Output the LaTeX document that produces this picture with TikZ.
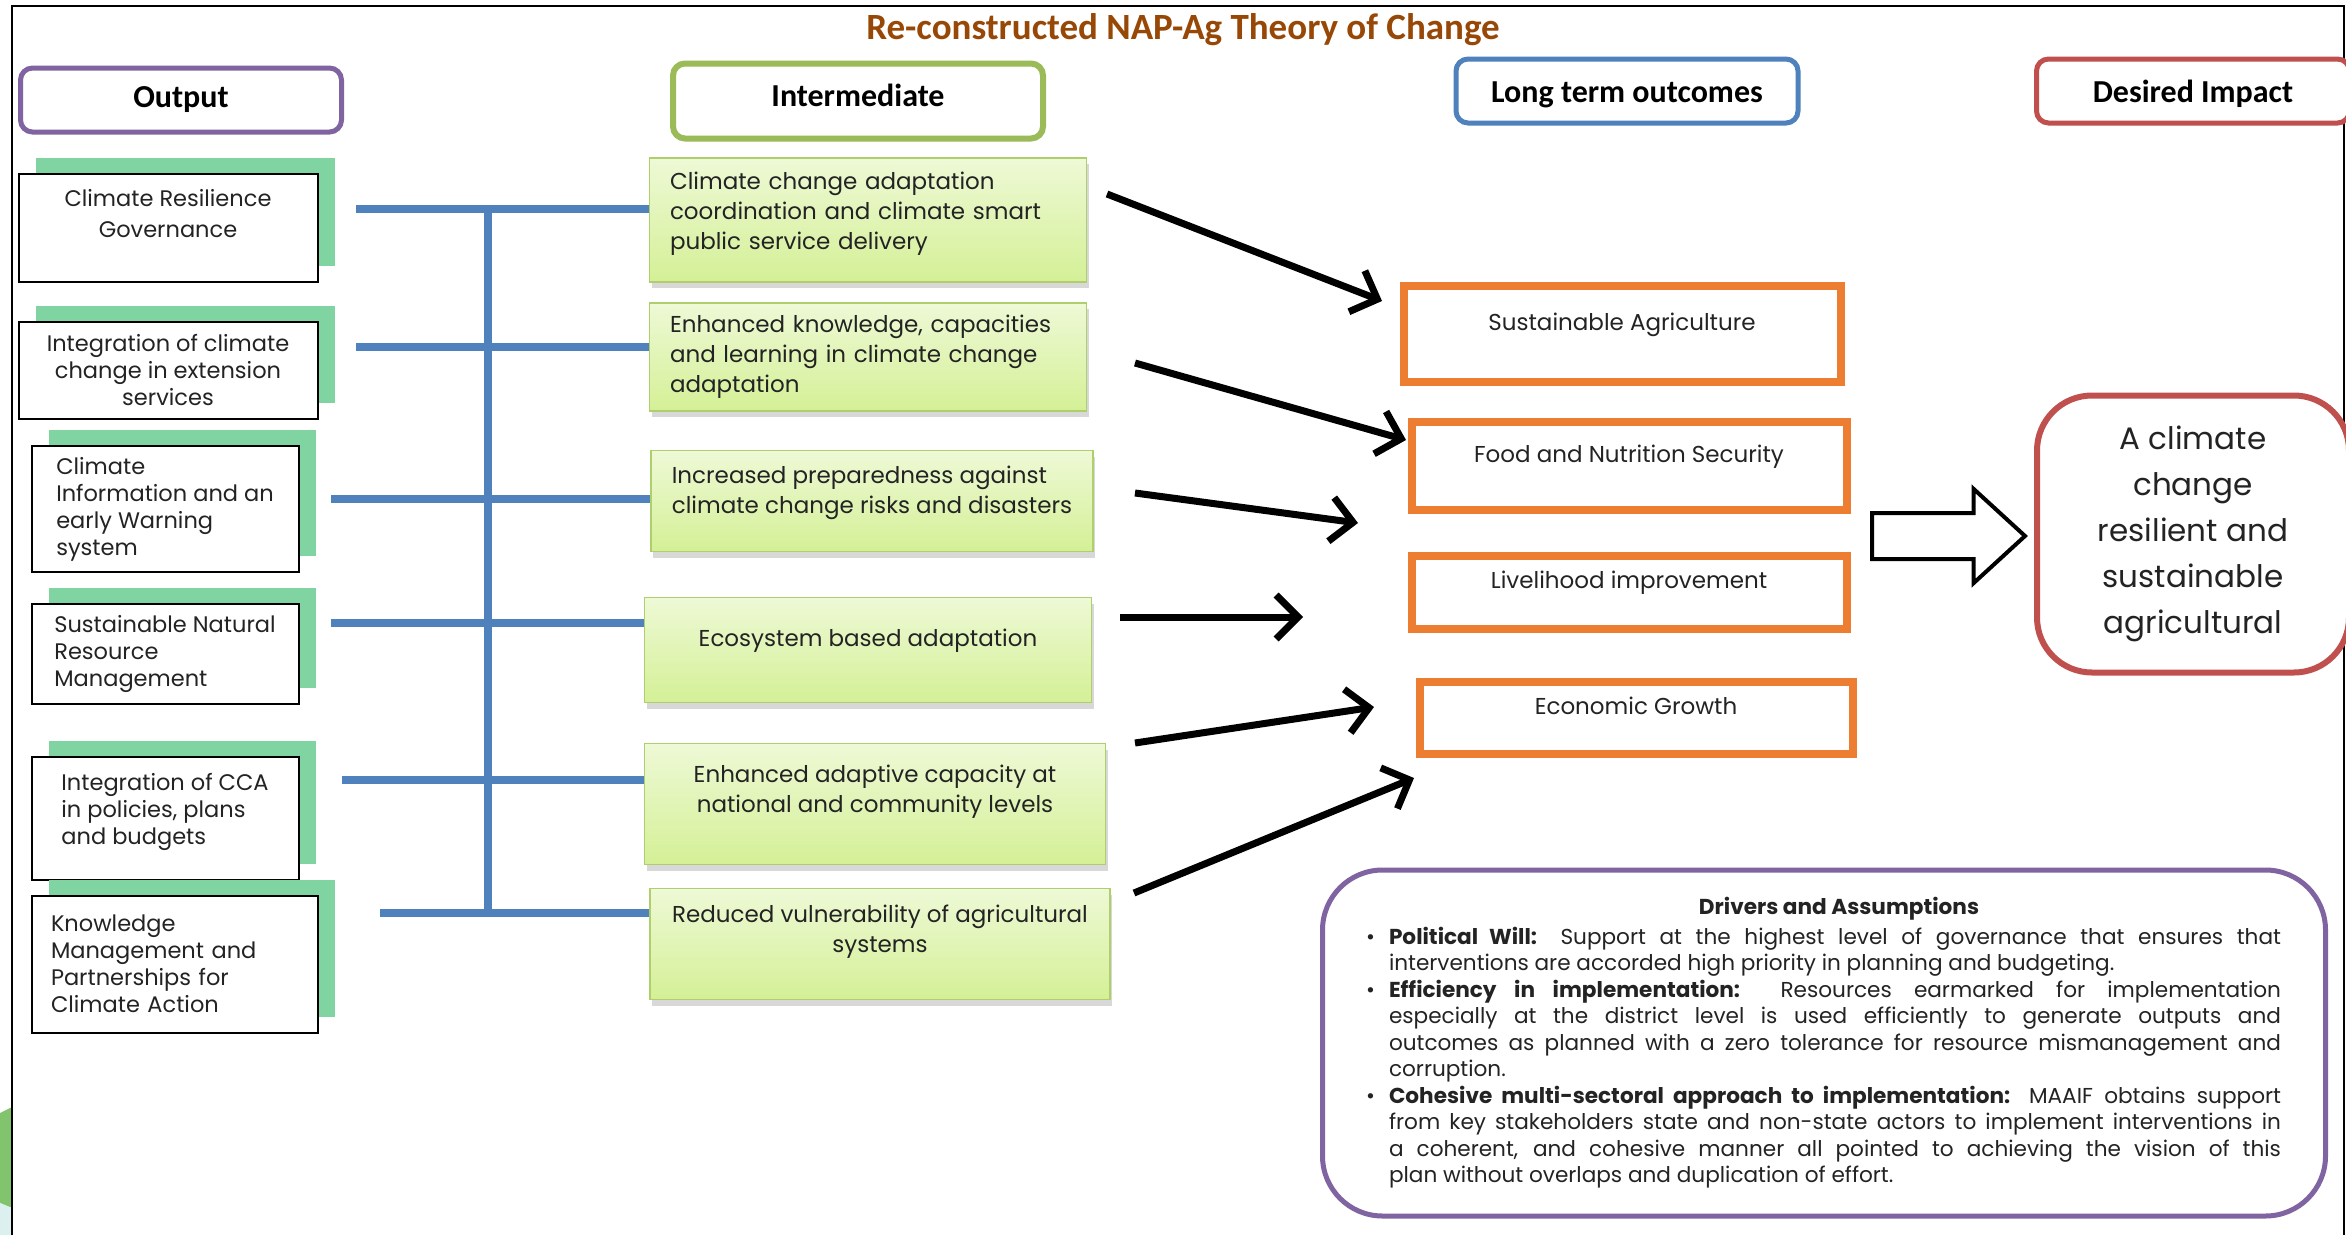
\documentclass[tikz,border=0pt]{standalone}
\usepackage{fontspec}
\setmainfont{Poppins}
\newfontfamily\headfont{Carlito}
\usepackage{enumitem}
\usetikzlibrary{arrows.meta,shadows,shapes.arrows}

\definecolor{titlebrown}{RGB}{152,72,6}
\definecolor{outpurple}{RGB}{128,100,162}
\definecolor{intgreen}{RGB}{155,187,89}
\definecolor{ltblue}{RGB}{79,129,189}
\definecolor{impred}{RGB}{192,80,77}
\definecolor{ltorange}{RGB}{237,125,49}
\definecolor{busblue}{RGB}{79,129,189}
\definecolor{mint}{RGB}{128,212,162}
\definecolor{limetop}{RGB}{238,249,214}
\definecolor{limebot}{RGB}{212,240,150}
\definecolor{limeline}{RGB}{175,207,110}
\definecolor{leafgreen}{RGB}{130,196,110}
\definecolor{paleaqua}{RGB}{220,240,240}
\definecolor{ink}{RGB}{35,35,35}

\begin{document}
\begin{tikzpicture}[x=1pt,y=-1pt,>={Straight Barb[length=22pt,width=44pt]},
    head/.style={draw,fill=white,rounded corners=12pt,line width=5pt,
                 font=\headfont\bfseries\fontsize{32}{38}\selectfont},
    outbox/.style={draw=black,fill=white,line width=2pt,inner sep=0pt,text=ink,
                   font=\fontsize{22.5}{27}\selectfont,
                   copy shadow={shadow xshift=17pt,shadow yshift=16pt,fill=mint,draw=none}},
    intbox/.style={draw=limeline,line width=1.5pt,top color=limetop,bottom color=limebot,
                   inner sep=0pt,text=ink,font=\fontsize{23}{30}\selectfont,
                   drop shadow={shadow xshift=2pt,shadow yshift=-6pt,opacity=.3}},
    ltbox/.style={draw=ltorange,fill=white,line width=8pt,inner sep=0pt,text=ink,
                  text depth=25pt,font=\fontsize{23}{27}\selectfont},
    bus/.style={draw=busblue,line width=8pt},
    flow/.style={->,draw=black,line width=7pt}]
  \useasboundingbox (0,0) rectangle (2346,1235);
  \fill[white] (0,0) rectangle (2346,1235);

  % slide corner and frame
  \fill[leafgreen] (0,1113) -- (12,1107) -- (12,1208) -- (0,1203) -- cycle;
  \fill[paleaqua] (0,1203) -- (12,1208) -- (12,1235) -- (0,1235) -- cycle;
  \draw[line width=1.5pt] (12,1235) -- (12,6) -- (2344,6) -- (2344,1235);

  \node[font=\headfont\bfseries\fontsize{37}{43}\selectfont,text=titlebrown] (title) at (1183,30)
       {Re-constructed NAP-Ag Theory of Change};

  % column heads
  \node[head,draw=outpurple,minimum width=321pt,minimum height=64pt] (hout) at (181,100) {Output};
  \node[head,draw=intgreen,line width=6pt,text depth=12pt,minimum width=370pt,minimum height=75pt] (hint) at (858,101) {Intermediate};
  \node[head,draw=ltblue,text height=29pt,minimum width=342pt,minimum height=64pt] (hlong) at (1627,91) {Long term outcomes};
  \node[head,draw=impred,text height=29pt,minimum width=313pt,minimum height=64pt] (himp) at (2193,91) {Desired Impact};

  % outputs
  \node[outbox,align=center,minimum width=299pt,minimum height=108pt] (out1) at (168,228) {Climate Resilience\\[4pt]Governance\\[3pt]\mbox{}};
  \node[outbox,align=center,minimum width=299pt,minimum height=97pt] (out2) at (168,370) {Integration of climate\\change in extension\\services};
  \node[outbox,align=left,minimum width=267pt,minimum height=126pt] (out3) at (165,509) {Climate\\Information and an\\early Warning\\system};
  \node[outbox,align=left,minimum width=267pt,minimum height=100pt] (out4) at (165,654) {Sustainable Natural\\Resource\\Management};
  \node[outbox,align=left,minimum width=267pt,minimum height=123pt] (out5) at (165,818) {Integration of CCA\\in policies, plans\\and budgets\\[-9pt]\mbox{}};
  \node[outbox,align=left,text width=248pt,minimum width=286pt,minimum height=137pt] (out6) at (175,964) {Knowledge\\Management and\\Partnerships for\\Climate Action};

  % intermediate results
  \node[intbox,align=left,text width=396pt,minimum width=437pt,minimum height=124pt] (int1) at (868,220) {Climate change adaptation\\coordination and climate smart\\public service delivery\\[-12pt]\mbox{}};
  \node[intbox,align=left,text width=396pt,minimum width=437pt,minimum height=108pt] (int2) at (868,357) {Enhanced knowledge, capacities\\and learning in climate change\\adaptation};
  \node[intbox,align=left,minimum width=442pt,minimum height=101pt] (int3) at (872,501) {Increased preparedness against\\climate change risks and disasters\\[-8pt]\mbox{}};
  \node[intbox,text depth=25pt,minimum width=447pt,minimum height=105pt] (int4) at (868,650) {Ecosystem based adaptation};
  \node[intbox,align=center,minimum width=461pt,minimum height=121pt] (int5) at (875,804) {Enhanced adaptive capacity at\\national and community levels\\\mbox{}};
  \node[intbox,align=center,minimum width=460pt,minimum height=111pt] (int6) at (880,944) {Reduced vulnerability of agricultural\\systems\\\mbox{}};

  % long term outcomes
  \node[ltbox,minimum width=437pt,minimum height=96pt] (lt1) at (1622,334) {Sustainable Agriculture};
  \node[ltbox,minimum width=435pt,minimum height=88pt] (lt2) at (1629,466) {Food and Nutrition Security};
  \node[ltbox,minimum width=435pt,minimum height=73pt] (lt3) at (1629,592) {Livelihood improvement};
  \node[ltbox,minimum width=433pt,minimum height=72pt] (lt4) at (1636,718) {Economic Growth};

  \node[single arrow,draw=black,fill=white,line width=4pt,inner xsep=0pt,inner ysep=21pt,
        single arrow head extend=24pt,single arrow tip angle=85,minimum height=153pt,
        anchor=tail] (push) at (1870,536) {};

  \node[draw=impred,fill=white,line width=6pt,rounded corners=55pt,align=center,text=ink,
        font=\fontsize{31}{46}\selectfont,minimum width=312pt,minimum height=277pt] (imp) at (2193,534)
       {A climate\\change\\resilient and\\sustainable\\agricultural};

  % drivers
  \node[draw=outpurple,fill=white,line width=5pt,rounded corners=60pt,text=ink,
        text width=914pt,align=justify,font=\fontsize{21.6}{26.5}\selectfont,
        minimum width=1003pt,minimum height=346pt] (drv) at (1824,1043) {%
    {\centering\hspace*{30pt}\textbf{Drivers and Assumptions}\par}
    \begin{itemize}[leftmargin=22pt,labelsep=14pt,itemsep=0pt,topsep=3pt,parsep=0pt,partopsep=0pt]
    \item \textbf{Political Will:} Support at the highest level of governance that ensures that\linebreak
      interventions are accorded high priority in planning and budgeting.
    \item \textbf{Efficiency in implementation:} Resources earmarked for implementation\linebreak
      especially at the district level is used efficiently to generate outputs and\linebreak
      outcomes as planned with a zero tolerance for resource mismanagement and\linebreak
      corruption.
    \item \textbf{Cohesive multi-sectoral approach to implementation:} MAAIF obtains support\linebreak
      from key stakeholders state and non-state actors to implement interventions in\linebreak
      a coherent, and cohesive manner all pointed to achieving the vision of this\linebreak
      plan without overlaps and duplication of effort.
    \end{itemize}};

  % blue bus
  \coordinate (bus1) at (356,209);
  \coordinate (bus2) at (356,347);
  \coordinate (bus3) at (331,499);
  \coordinate (bus4) at (331,623);
  \coordinate (bus5) at (342,780);
  \coordinate (bus6) at (380,913);
  \coordinate (trunk) at (488,209);
  \path (trunk) edge[bus] (trunk |- bus6)
        (bus1) edge[bus] (bus1 -| int1.west)
        (bus2) edge[bus] (bus2 -| int2.west)
        (bus3) edge[bus] (bus3 -| int3.west)
        (bus4) edge[bus] (bus4 -| int4.west)
        (bus5) edge[bus] (bus5 -| int5.west)
        (bus6) edge[bus] (bus6 -| int6.west);

  % arrows into outcomes
  \coordinate (a1) at (1107,194);  \coordinate (b1) at (1382,301);
  \coordinate (a2) at (1135,363);  \coordinate (b2) at (1406,440);
  \coordinate (a3) at (1135,493);  \coordinate (b3) at (1358,523);
  \coordinate (a4) at (1120,617);  \coordinate (b4) at (1303,617);
  \coordinate (a5) at (1135,743);  \coordinate (b5) at (1374,707);
  \coordinate (a6) at (1134,893);  \coordinate (b6) at (1414,778);
  \path (a1) edge[flow] (b1)
        (a2) edge[flow] (b2)
        (a3) edge[flow] (b3)
        (a4) edge[flow] (b4)
        (a5) edge[flow] (b5)
        (a6) edge[flow] (b6);
\end{tikzpicture}
\end{document}
